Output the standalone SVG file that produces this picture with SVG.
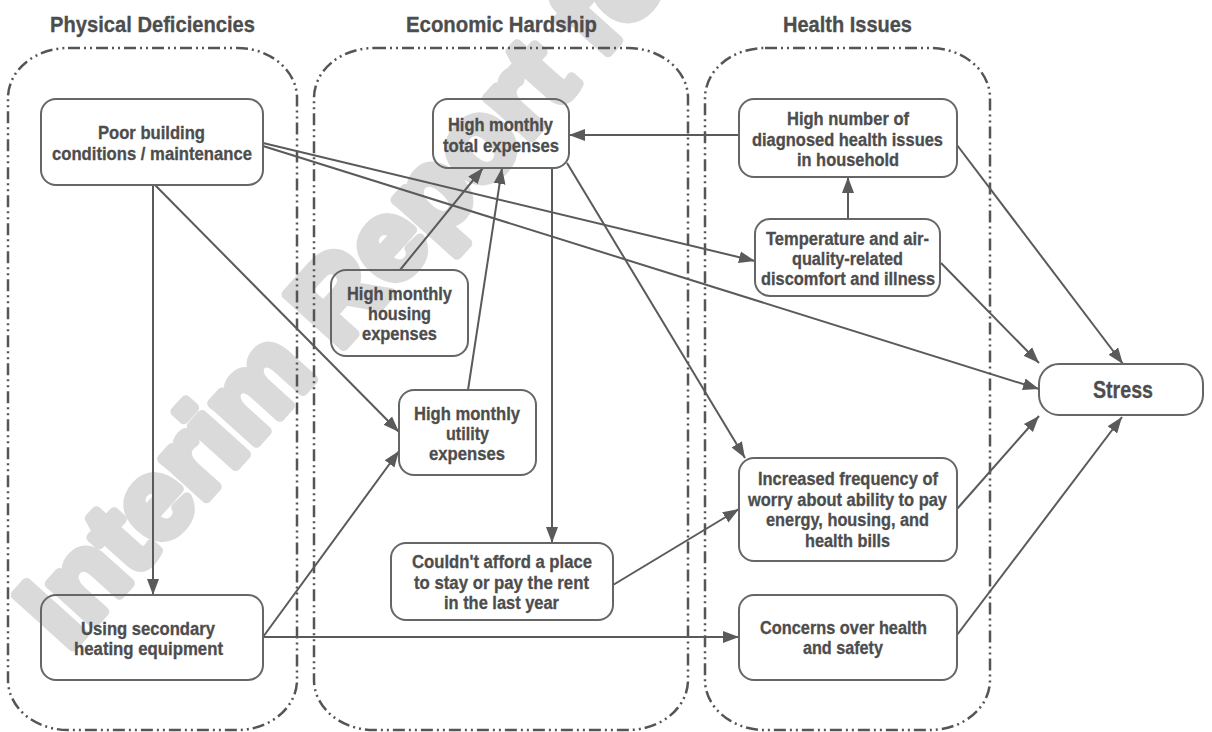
<svg xmlns="http://www.w3.org/2000/svg" width="1212" height="732" viewBox="0 0 1212 732">
<style>
text{font-family:"Liberation Sans",Arial,sans-serif;font-weight:bold;fill:#4d4d4d;stroke:#4d4d4d;stroke-width:0.3;text-anchor:middle}
.t{font-size:18px}
.h{font-size:22px}
.grp{fill:none;stroke:#555;stroke-width:2.5;stroke-dasharray:12 4 2 4 2 4}
.box{fill:none;stroke:#666;stroke-width:2}
.c{fill:none;stroke:#5a5a5a;stroke-width:2;marker-end:url(#ah)}
.wm{font-size:112px;fill:#dadada;stroke:#dadada;stroke-width:10;stroke-linejoin:round;text-anchor:start}
</style>
<defs>
<marker id="ah" markerUnits="userSpaceOnUse" markerWidth="18" markerHeight="14" refX="16" refY="7" orient="auto">
<path d="M0,1 L16,7 L0,13 z" fill="#5a5a5a"/>
</marker>
</defs>
<rect width="1212" height="732" fill="#fff"/>
<text class="wm" transform="translate(68,652) rotate(-48)">Interim Report for</text>

<g id="groups">
<rect class="grp" x="8" y="48" width="289" height="682" rx="60" ry="50"/>
<rect class="grp" x="314" y="48" width="374" height="682" rx="60" ry="50"/>
<rect class="grp" x="705" y="48" width="285" height="682" rx="60" ry="50"/>
<text class="h" x="152.5" y="32" textLength="205" lengthAdjust="spacingAndGlyphs">Physical Deficiencies</text>
<text class="h" x="501.5" y="32" textLength="191" lengthAdjust="spacingAndGlyphs">Economic Hardship</text>
<text class="h" x="847.5" y="32" textLength="129" lengthAdjust="spacingAndGlyphs">Health Issues</text>
</g>

<g id="connectors">
<line class="c" x1="153" y1="185" x2="153" y2="595"/>
<line class="c" x1="155" y1="185" x2="399" y2="432"/>
<line class="c" x1="263" y1="143" x2="755" y2="261"/>
<line class="c" x1="263" y1="146" x2="1039" y2="389"/>
<line class="c" x1="400" y1="270" x2="483" y2="168"/>
<line class="c" x1="468" y1="390" x2="502" y2="168"/>
<line class="c" x1="552" y1="168" x2="552" y2="543"/>
<line class="c" x1="567" y1="163" x2="745" y2="458"/>
<line class="c" x1="739" y1="135" x2="569" y2="135"/>
<line class="c" x1="848" y1="219" x2="848" y2="177"/>
<line class="c" x1="957" y1="145" x2="1123" y2="364"/>
<line class="c" x1="941" y1="263" x2="1039" y2="363"/>
<line class="c" x1="957" y1="509" x2="1039" y2="416"/>
<line class="c" x1="957" y1="635" x2="1122" y2="417"/>
<line class="c" x1="613" y1="585" x2="739" y2="509"/>
<line class="c" x1="263" y1="637" x2="739" y2="637"/>
<line class="c" x1="263" y1="637" x2="399" y2="451"/>
</g>

<g id="poor">
<rect class="box" x="41" y="99" width="222" height="86" rx="15"/>
<text class="t" x="151.5" y="139" textLength="107" lengthAdjust="spacingAndGlyphs">Poor building</text>
<text class="t" x="152" y="160" textLength="200" lengthAdjust="spacingAndGlyphs">conditions / maintenance</text>
</g>

<g id="secondary">
<rect class="box" x="41" y="595" width="222" height="85" rx="15"/>
<text class="t" x="148" y="635" textLength="134" lengthAdjust="spacingAndGlyphs">Using secondary</text>
<text class="t" x="148.5" y="655" textLength="149" lengthAdjust="spacingAndGlyphs">heating equipment</text>
</g>

<g id="total">
<rect class="box" x="433" y="99" width="136" height="69" rx="15"/>
<text class="t" x="500.5" y="131" textLength="105" lengthAdjust="spacingAndGlyphs">High monthly</text>
<text class="t" x="501" y="152" textLength="116" lengthAdjust="spacingAndGlyphs">total expenses</text>
</g>

<g id="housing">
<rect class="box" x="331" y="270" width="137" height="86" rx="15"/>
<text class="t" x="399.5" y="300" textLength="105" lengthAdjust="spacingAndGlyphs">High monthly</text>
<text class="t" x="399.5" y="320" textLength="63" lengthAdjust="spacingAndGlyphs">housing</text>
<text class="t" x="399.5" y="340" textLength="75" lengthAdjust="spacingAndGlyphs">expenses</text>
</g>

<g id="utility">
<rect class="box" x="399" y="390" width="137" height="85" rx="15"/>
<text class="t" x="467" y="420" textLength="106" lengthAdjust="spacingAndGlyphs">High monthly</text>
<text class="t" x="467.5" y="440" textLength="43" lengthAdjust="spacingAndGlyphs">utility</text>
<text class="t" x="467" y="460" textLength="76" lengthAdjust="spacingAndGlyphs">expenses</text>
</g>

<g id="afford">
<rect class="box" x="391" y="543" width="222" height="77" rx="15"/>
<text class="t" x="502" y="568" textLength="180" lengthAdjust="spacingAndGlyphs">Couldn't afford a place</text>
<text class="t" x="501.5" y="589" textLength="175" lengthAdjust="spacingAndGlyphs">to stay or pay the rent</text>
<text class="t" x="501.5" y="609" textLength="115" lengthAdjust="spacingAndGlyphs">in the last year</text>
</g>

<g id="diagnosed">
<rect class="box" x="739" y="99" width="218" height="78" rx="15"/>
<text class="t" x="848" y="125" textLength="122" lengthAdjust="spacingAndGlyphs">High number of</text>
<text class="t" x="847.5" y="146" textLength="191" lengthAdjust="spacingAndGlyphs">diagnosed health issues</text>
<text class="t" x="848" y="166" textLength="102" lengthAdjust="spacingAndGlyphs">in household</text>
</g>

<g id="temperature">
<rect class="box" x="755" y="219" width="185" height="77" rx="15"/>
<text class="t" x="847.5" y="245" textLength="163" lengthAdjust="spacingAndGlyphs">Temperature and air-</text>
<text class="t" x="847.5" y="265" textLength="111" lengthAdjust="spacingAndGlyphs">quality-related</text>
<text class="t" x="848" y="285" textLength="174" lengthAdjust="spacingAndGlyphs">discomfort and illness</text>
</g>

<g id="worry">
<rect class="box" x="739" y="458" width="218" height="103" rx="15"/>
<text class="t" x="848" y="485" textLength="180" lengthAdjust="spacingAndGlyphs">Increased frequency of</text>
<text class="t" x="847.5" y="506" textLength="199" lengthAdjust="spacingAndGlyphs">worry about ability to pay</text>
<text class="t" x="847.5" y="526" textLength="163" lengthAdjust="spacingAndGlyphs">energy, housing, and</text>
<text class="t" x="847.5" y="547" textLength="85" lengthAdjust="spacingAndGlyphs">health bills</text>
</g>

<g id="concerns">
<rect class="box" x="739" y="595" width="218" height="85" rx="15"/>
<text class="t" x="843.5" y="634" textLength="167" lengthAdjust="spacingAndGlyphs">Concerns over health</text>
<text class="t" x="843" y="654" textLength="80" lengthAdjust="spacingAndGlyphs">and safety</text>
</g>

<g id="stress">
<rect class="box" x="1039" y="364" width="164" height="51" rx="20"/>
<text x="1123" y="398" style="font-size:24px" textLength="60" lengthAdjust="spacingAndGlyphs">Stress</text>
</g>
</svg>
